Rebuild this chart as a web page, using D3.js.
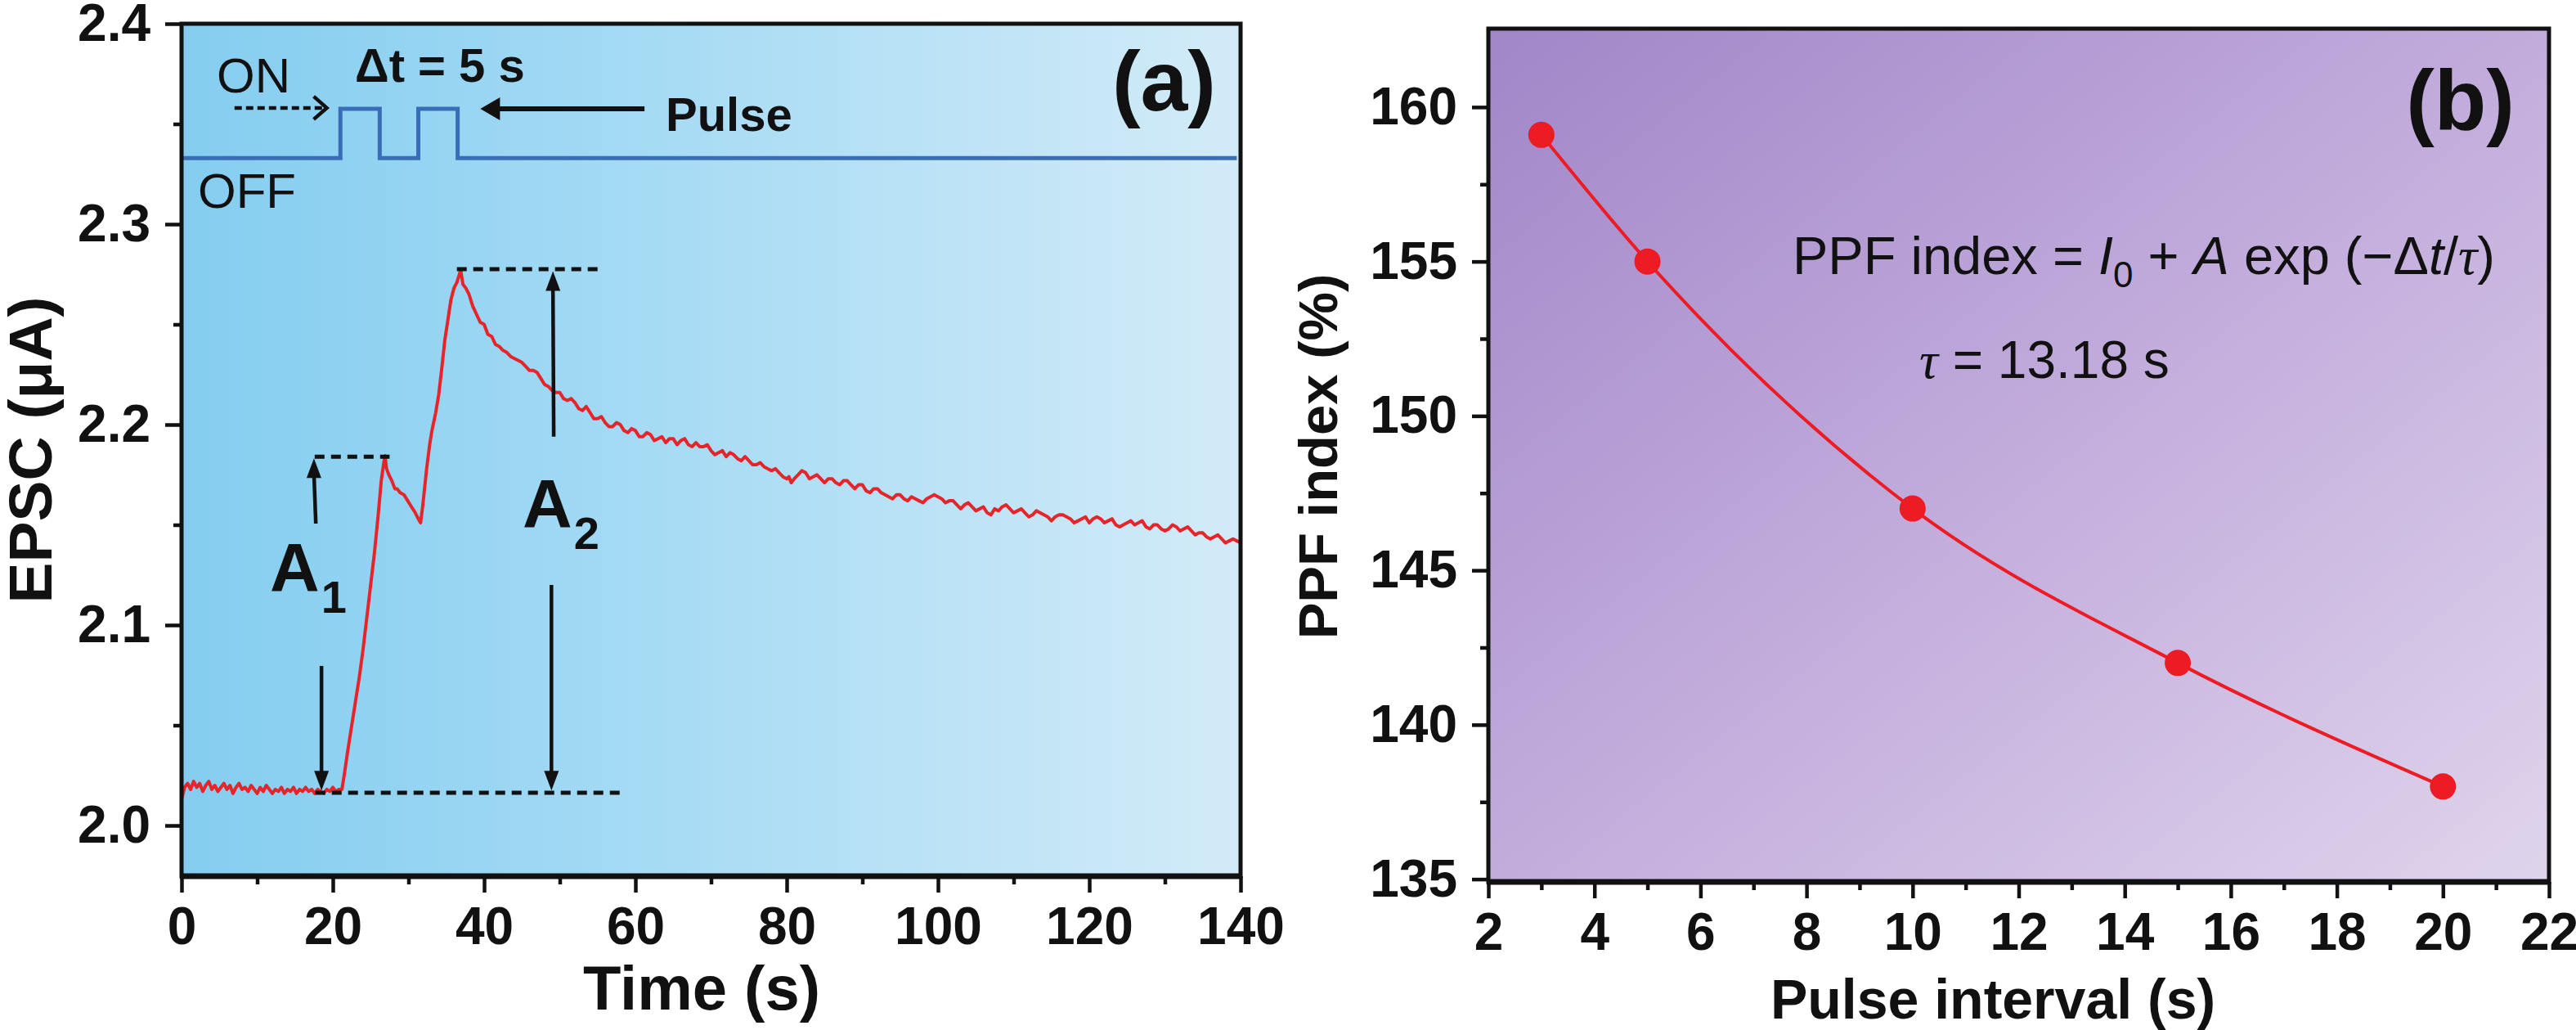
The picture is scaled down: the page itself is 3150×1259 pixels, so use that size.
<!DOCTYPE html>
<html>
<head>
<meta charset="utf-8">
<script src="https://cdn.jsdelivr.net/npm/d3@7"></script>
<style>
  body { margin: 0; background: #fff; }
</style>
</head>
<body>
<div id="chart"></div>
<script>
// ---- panel (a): EPSC trace as [time s, current uA]
const epscTrace = [
  [0, 2.013], [0.4, 2.019], [0.8, 2.021], [1.2, 2.018], [1.6, 2.022], [2, 2.019], [2.4, 2.021],
  [2.8, 2.017], [3.2, 2.020], [3.6, 2.022], [4, 2.018], [4.4, 2.020], [4.8, 2.017], [5.2, 2.019],
  [5.6, 2.021], [6, 2.018], [6.4, 2.020], [6.8, 2.016], [7.2, 2.019], [7.6, 2.021], [8, 2.018],
  [8.4, 2.019], [8.8, 2.017], [9.2, 2.020], [9.6, 2.018], [10, 2.016], [10.4, 2.019], [10.8, 2.017],
  [11.2, 2.020], [11.6, 2.018], [12, 2.016], [12.4, 2.018], [12.8, 2.017], [13.2, 2.019], [13.6, 2.016],
  [14, 2.018], [14.4, 2.017], [14.8, 2.019], [15.2, 2.016], [15.6, 2.018], [16, 2.017], [16.4, 2.019],
  [16.8, 2.017], [17.2, 2.018], [17.6, 2.016], [18, 2.018], [18.4, 2.017], [18.8, 2.016], [19.2, 2.018],
  [19.6, 2.017], [20, 2.019], [20.4, 2.017], [20.8, 2.018], [21.2, 2.018],
  [21.5, 2.025], [22, 2.038], [22.5, 2.050], [23, 2.062], [23.5, 2.074], [24, 2.088], [24.5, 2.104],
  [25, 2.120], [25.5, 2.136], [26, 2.155], [26.4, 2.172], [26.7, 2.180], [26.9, 2.1845],
  [27.1, 2.178], [27.4, 2.175], [27.8, 2.172], [28.2, 2.168], [28.5, 2.168], [28.9, 2.166],
  [29.4, 2.165], [29.9, 2.162], [30.4, 2.159], [30.9, 2.156], [31.3, 2.153], [31.6, 2.151],
  [31.9, 2.160], [32.4, 2.178], [32.8, 2.190], [33.1, 2.197], [33.6, 2.206], [34, 2.215],
  [34.4, 2.228], [34.8, 2.242], [35.2, 2.252], [35.6, 2.262], [36, 2.268], [36.4, 2.271], [36.9, 2.277],
  [37.2, 2.270], [37.6, 2.268], [38, 2.265], [38.5, 2.259], [39, 2.255], [39.5, 2.251], [40, 2.250],
  [40.5, 2.245], [41, 2.244], [41.5, 2.240], [42, 2.239], [42.5, 2.237], [43, 2.236], [43.5, 2.234],
  [44, 2.233], [44.5, 2.232], [45, 2.231], [45.5, 2.229], [46, 2.227], [46.5, 2.227], [47, 2.226],
  [47.5, 2.223], [48, 2.220], [48.5, 2.219], [49, 2.217], [49.5, 2.216], [50, 2.216], [50.5, 2.213],
  [51, 2.212], [51.5, 2.213], [52, 2.211], [52.5, 2.208], [53, 2.207], [53.5, 2.209], [54, 2.206],
  [54.5, 2.203], [55, 2.203], [55.5, 2.204], [56, 2.201], [56.5, 2.199], [57, 2.199], [57.5, 2.201],
  [58, 2.200], [58.5, 2.197], [59, 2.196], [59.5, 2.198], [60, 2.197], [60.5, 2.194], [61, 2.194],
  [61.5, 2.196], [62, 2.195], [62.5, 2.192], [63, 2.193], [63.5, 2.194], [64, 2.191], [64.5, 2.193],
  [65, 2.193], [65.5, 2.190], [66, 2.192], [66.5, 2.193], [67, 2.190], [67.5, 2.189], [68, 2.191],
  [68.5, 2.189], [69, 2.189], [69.5, 2.190], [70, 2.187], [70.5, 2.185], [71, 2.186], [71.5, 2.187],
  [72, 2.184], [72.5, 2.186], [73, 2.185], [73.5, 2.183], [74, 2.182], [74.5, 2.184], [75, 2.182],
  [75.5, 2.180], [76, 2.180], [76.5, 2.181], [77, 2.179], [77.5, 2.178], [78, 2.177], [78.5, 2.178],
  [79, 2.176], [79.5, 2.174], [80, 2.173], [80.3, 2.174], [80.6, 2.171], [81, 2.173], [81.5, 2.175],
  [82, 2.177], [82.5, 2.176], [83, 2.173], [83.5, 2.174], [84, 2.175], [84.5, 2.173], [85, 2.171],
  [85.5, 2.173], [86, 2.173], [86.5, 2.171], [87, 2.170], [87.5, 2.172], [88, 2.172], [88.5, 2.170],
  [89, 2.168], [89.5, 2.170], [90, 2.170], [90.5, 2.167], [91, 2.166], [91.5, 2.168], [92, 2.168],
  [92.5, 2.166], [93, 2.165], [93.5, 2.164], [94, 2.163], [94.5, 2.165], [95, 2.165], [95.5, 2.163],
  [96, 2.162], [96.5, 2.164], [97, 2.163], [97.5, 2.162], [98, 2.161], [98.5, 2.163], [99, 2.164],
  [99.5, 2.165], [100, 2.164], [100.5, 2.163], [101, 2.161], [101.5, 2.162], [102, 2.162], [102.5, 2.160],
  [103, 2.158], [103.5, 2.160], [104, 2.161], [104.5, 2.159], [105, 2.157], [105.5, 2.158], [106, 2.159],
  [106.5, 2.156], [107, 2.155], [107.5, 2.158], [108, 2.157], [108.5, 2.159], [109, 2.160], [109.5, 2.158],
  [110, 2.156], [110.5, 2.157], [111, 2.158], [111.5, 2.156], [112, 2.154], [112.5, 2.155], [113, 2.157],
  [113.5, 2.156], [114, 2.155], [114.5, 2.154], [115, 2.152], [115.5, 2.154], [116, 2.155], [116.5, 2.155],
  [117, 2.154], [117.5, 2.153], [118, 2.151], [118.5, 2.152], [119, 2.153], [119.5, 2.154], [120, 2.151],
  [120.5, 2.153], [121, 2.154], [121.5, 2.153], [122, 2.151], [122.5, 2.152], [123, 2.153], [123.5, 2.150],
  [124, 2.149], [124.5, 2.150], [125, 2.151], [125.5, 2.152], [126, 2.150], [126.5, 2.151], [127, 2.152],
  [127.5, 2.149], [128, 2.148], [128.5, 2.150], [129, 2.150], [129.5, 2.148], [130, 2.147], [130.5, 2.148],
  [131, 2.150], [131.5, 2.149], [132, 2.147], [132.5, 2.148], [133, 2.149], [133.5, 2.147], [134, 2.145],
  [134.5, 2.146], [135, 2.146], [135.5, 2.144], [136, 2.143], [136.5, 2.144], [137, 2.145], [137.5, 2.143],
  [138, 2.141], [138.5, 2.142], [139, 2.143], [139.5, 2.142], [140, 2.141]
];

// light pulse sketch (drawn in EPSC units, OFF = low, ON = high)
const pulseTime = [0, 21, 21, 26.2, 26.2, 31.3, 31.3, 36.5, 36.5, 139.5];
const pulseLevel = [2.333, 2.333, 2.3576, 2.3576, 2.333, 2.333, 2.3576, 2.3576, 2.333, 2.333];

const timeTicks = [0, 20, 40, 60, 80, 100, 120, 140];
const timeMinor = [10, 30, 50, 70, 90, 110, 130];
const epscTicks = [2.0, 2.1, 2.2, 2.3, 2.4];
const epscMinor = [2.05, 2.15, 2.25, 2.35];

// ---- panel (b): PPF index vs pulse interval
const pulseInterval = [3, 5, 10, 15, 20];
const ppfIndex = [159.1, 155.0, 147.0, 142.0, 138.0];

const intervalTicks = [2, 4, 6, 8, 10, 12, 14, 16, 18, 20, 22];
const intervalMinor = [3, 5, 7, 9, 11, 13, 15, 17, 19, 21];
const ppfTicks = [135, 140, 145, 150, 155, 160];
const ppfMinor = [137.5, 142.5, 147.5, 152.5, 157.5];

const font = "'Liberation Sans', Arial, sans-serif";

const svg = d3.select("#chart").append("svg")
    .attr("width", 3150)
    .attr("height", 1259)
    .style("font-family", font);

const defs = svg.append("defs");
const gradA = defs.append("linearGradient").attr("id", "bgA")
    .attr("x1", 0).attr("y1", 0).attr("x2", 1).attr("y2", 0);
gradA.append("stop").attr("offset", 0).attr("stop-color", "#84cdf0");
gradA.append("stop").attr("offset", 0.45).attr("stop-color", "#a6dbf4");
gradA.append("stop").attr("offset", 1).attr("stop-color", "#d3ebf8");

const gradB = defs.append("linearGradient").attr("id", "bgB")
    .attr("x1", 0).attr("y1", 0).attr("x2", 1).attr("y2", 1);
gradB.append("stop").attr("offset", 0).attr("stop-color", "#a186c8");
gradB.append("stop").attr("offset", 0.5).attr("stop-color", "#c2acdc");
gradB.append("stop").attr("offset", 1).attr("stop-color", "#dfd4ec");

function drawAxes(x, y, opt) {
    const [x0, x1] = x.range();
    const [y0, y1] = y.range();   // y0 = bottom, y1 = top

    svg.append("rect")
        .attr("x", x0).attr("y", y1)
        .attr("width", x1 - x0).attr("height", y0 - y1)
        .attr("fill", `url(#${opt.bg})`);

    const styleAxis = g => {
        g.select(".domain").remove();
        g.selectAll(".tick line").attr("stroke", "#111").attr("stroke-width", 4.5);
        g.selectAll(".tick text")
            .attr("fill", "#111")
            .style("font-size", "64px")
            .style("font-weight", "bold")
            .style("font-family", font);
    };

    svg.append("g")
        .attr("transform", `translate(0,${y0})`)
        .call(d3.axisBottom(x).tickValues(opt.xTicks).tickSize(20).tickPadding(18)
            .tickFormat(d3.format("d")))
        .call(styleAxis);
    svg.append("g")
        .attr("transform", `translate(0,${y0})`)
        .call(d3.axisBottom(x).tickValues(opt.xMinor).tickSize(10).tickFormat(""))
        .call(styleAxis);

    svg.append("g")
        .attr("transform", `translate(${x0},0)`)
        .call(d3.axisLeft(y).tickValues(opt.yTicks).tickSize(20).tickPadding(18)
            .tickFormat(opt.yFormat))
        .call(styleAxis);
    svg.append("g")
        .attr("transform", `translate(${x0},0)`)
        .call(d3.axisLeft(y).tickValues(opt.yMinor).tickSize(10).tickFormat(""))
        .call(styleAxis);
}

function drawFrame(x, y) {
    const [x0, x1] = x.range();
    const [y0, y1] = y.range();
    svg.append("rect")
        .attr("x", x0).attr("y", y1)
        .attr("width", x1 - x0).attr("height", y0 - y1)
        .attr("fill", "none")
        .attr("stroke", "#111")
        .attr("stroke-width", 5);
    svg.append("line")
        .attr("x1", x0 - 2).attr("x2", x1 + 2)
        .attr("y1", y0).attr("y2", y0)
        .attr("stroke", "#111").attr("stroke-width", 7);
}

// filled arrow head with tip at (tx,ty), pointing in direction (dx,dy)
function arrowHead(tx, ty, dx, dy, len, half) {
    const n = Math.hypot(dx, dy), ux = dx / n, uy = dy / n;
    const bx = tx - ux * len, by = ty - uy * len;
    svg.append("path")
        .attr("d", `M${tx},${ty}L${bx - uy * half},${by + ux * half}L${bx + uy * half},${by - ux * half}Z`)
        .attr("fill", "#111");
}

function dashed(xa, xb, yy) {
    svg.append("line")
        .attr("x1", xa).attr("x2", xb).attr("y1", yy).attr("y2", yy)
        .attr("stroke", "#111").attr("stroke-width", 5)
        .attr("stroke-dasharray", "12,8");
}

// ================= panel (a) =================
const xA = d3.scaleLinear().domain([0, 140]).range([222, 1517]);
const yA = d3.scaleLinear().domain([1.9747, 2.4]).range([1071, 29]);

drawAxes(xA, yA, {
    bg: "bgA", xTicks: timeTicks, xMinor: timeMinor,
    yTicks: epscTicks, yMinor: epscMinor, yFormat: d3.format(".1f")
});

// pulse train
svg.append("path")
    .datum(d3.zip(pulseTime, pulseLevel))
    .attr("fill", "none")
    .attr("stroke", "#3a6db8")
    .attr("stroke-width", 5)
    .attr("d", d3.line().x(d => xA(d[0])).y(d => yA(d[1])));

// EPSC trace
svg.append("path")
    .datum(epscTrace)
    .attr("fill", "none")
    .attr("stroke", "#e8242b")
    .attr("stroke-width", 4)
    .attr("stroke-linejoin", "round")
    .attr("d", d3.line().x(d => xA(d[0])).y(d => yA(d[1])));

// amplitude guides
dashed(xA(17.6), xA(27.5), yA(2.184));
dashed(xA(36.4), xA(55.2), yA(2.2776));
dashed(xA(17.7), xA(58.2), yA(2.0163));

const arrowLine = (xa, ya, xb, yb, w) => svg.append("line")
    .attr("x1", xa).attr("y1", ya).attr("x2", xb).attr("y2", yb)
    .attr("stroke", "#111").attr("stroke-width", w);

// A1 arrows
arrowLine(xA(17.75), yA(2.1506), xA(17.5), yA(2.184) + 20, 4.5);
arrowHead(xA(17.5), yA(2.184) + 2, 0, -1, 24, 9);
arrowLine(xA(18.5), yA(2.0796), xA(18.5), yA(2.0175) - 20, 4.5);
arrowHead(xA(18.5), yA(2.0175), 0, 1, 24, 9);

// A2 arrows
arrowLine(xA(49.2), yA(2.194), xA(49.1), yA(2.2765) + 20, 4.5);
arrowHead(xA(49.1), yA(2.2765), 0, -1, 24, 9);
arrowLine(xA(48.9), yA(2.12), xA(48.9), yA(2.0175) - 20, 4.5);
arrowHead(xA(48.9), yA(2.0175), 0, 1, 24, 9);

// A1 / A2 labels
const aLabel = (px, py, sub) => {
    const t = svg.append("text")
        .attr("x", px).attr("y", py)
        .attr("fill", "#111")
        .style("font-size", "84px")
        .style("font-weight", "bold")
        .text("A");
    t.append("tspan").attr("dy", 26).attr("dx", 2).style("font-size", "56px").text(sub);
};
aLabel(330, 723, "1");
aLabel(639, 645, "2");

// ON / OFF / pulse annotations
svg.append("text").attr("x", 265).attr("y", 113).attr("fill", "#111")
    .style("font-size", "60px").text("ON");
svg.append("text").attr("x", 242).attr("y", 254).attr("fill", "#111")
    .style("font-size", "60px").text("OFF");
svg.append("text").attr("x", 434).attr("y", 100).attr("fill", "#111")
    .style("font-size", "58px").style("font-weight", "bold").text("\u0394t = 5 s");
svg.append("text").attr("x", 814).attr("y", 160).attr("fill", "#111")
    .style("font-size", "58px").style("font-weight", "bold").text("Pulse");
svg.append("text").attr("x", 1487).attr("y", 135).attr("fill", "#111")
    .attr("text-anchor", "end")
    .style("font-size", "104px").style("font-weight", "bold").text("(a)");

// ON dashed arrow (open head)
svg.append("line")
    .attr("x1", xA(7.0)).attr("x2", xA(19.0)).attr("y1", yA(2.358)).attr("y2", yA(2.358))
    .attr("stroke", "#111").attr("stroke-width", 4.5).attr("stroke-dasharray", "9,5");
svg.append("path")
    .attr("d", `M${xA(19.2) - 16},${yA(2.358) - 14}L${xA(19.2)},${yA(2.358)}L${xA(19.2) - 16},${yA(2.358) + 14}`)
    .attr("fill", "none").attr("stroke", "#111").attr("stroke-width", 4.5);

// Pulse solid arrow
arrowLine(xA(61.2), yA(2.3576), xA(39.5) + 20, yA(2.3576), 6);
arrowHead(xA(39.5), yA(2.3576), -1, 0, 24, 14);

// axis titles
svg.append("text")
    .attr("transform", "translate(63,550) rotate(-90)")
    .attr("text-anchor", "middle").attr("fill", "#111")
    .style("font-size", "75px").style("font-weight", "bold")
    .text("EPSC (\u03bcA)");
svg.append("text")
    .attr("x", 858).attr("y", 1234)
    .attr("text-anchor", "middle").attr("fill", "#111")
    .style("font-size", "76px").style("font-weight", "bold")
    .text("Time (s)");

drawFrame(xA, yA);

// ================= panel (b) =================
const xB = d3.scaleLinear().domain([2, 22]).range([1820, 3117]);
const yB = d3.scaleLinear().domain([134.91, 162.54]).range([1078, 35]);

drawAxes(xB, yB, {
    bg: "bgB", xTicks: intervalTicks, xMinor: intervalMinor,
    yTicks: ppfTicks, yMinor: ppfMinor, yFormat: d3.format("d")
});

const ppfPoints = d3.zip(pulseInterval, ppfIndex);

svg.append("path")
    .datum(ppfPoints)
    .attr("fill", "none")
    .attr("stroke", "#ed1c24")
    .attr("stroke-width", 4)
    .attr("d", d3.line().curve(d3.curveMonotoneX).x(d => xB(d[0])).y(d => yB(d[1])));

svg.selectAll("circle.ppf")
    .data(ppfPoints)
    .enter()
    .append("circle")
    .attr("class", "ppf")
    .attr("cx", d => xB(d[0]))
    .attr("cy", d => yB(d[1]))
    .attr("r", 16)
    .attr("fill", "#ed1c24");

// fit equation
const eq = svg.append("text")
    .attr("x", 2192).attr("y", 335).attr("fill", "#111")
    .style("font-size", "65px");
eq.append("tspan").text("PPF index = ");
eq.append("tspan").style("font-style", "italic").text("I");
eq.append("tspan").attr("dy", 16).style("font-size", "44px").text("0");
eq.append("tspan").attr("dy", -16).text(" + ");
eq.append("tspan").style("font-style", "italic").text("A");
eq.append("tspan").text(" exp (\u2212\u0394");
eq.append("tspan").style("font-style", "italic").text("t");
eq.append("tspan").text("/");
eq.append("tspan").style("font-style", "italic").style("font-family", "'Liberation Serif', serif").text("\u03c4");
eq.append("tspan").text(")");

const tau = svg.append("text")
    .attr("x", 2347).attr("y", 462).attr("fill", "#111")
    .style("font-size", "64px");
tau.append("tspan").style("font-style", "italic").style("font-family", "'Liberation Serif', serif").text("\u03c4");
tau.append("tspan").text(" = 13.18 s");

svg.append("text").attr("x", 3075).attr("y", 158).attr("fill", "#111")
    .attr("text-anchor", "end")
    .style("font-size", "104px").style("font-weight", "bold").text("(b)");

svg.append("text")
    .attr("transform", "translate(1635,558) rotate(-90)")
    .attr("text-anchor", "middle").attr("fill", "#111")
    .style("font-size", "67px").style("font-weight", "bold")
    .text("PPF index (%)");
svg.append("text")
    .attr("x", 2437).attr("y", 1245)
    .attr("text-anchor", "middle").attr("fill", "#111")
    .style("font-size", "68px").style("font-weight", "bold")
    .text("Pulse interval (s)");

drawFrame(xB, yB);
</script>
</body>
</html>
